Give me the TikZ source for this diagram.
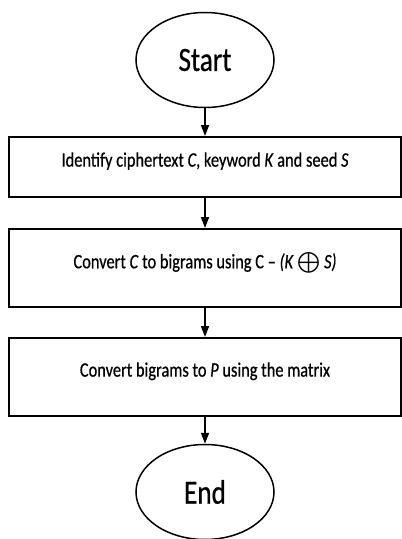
\documentclass[tikz,border=0pt]{standalone}
\usepackage{fontspec}
\setmainfont{Carlito}[FakeStretch=0.8, FakeBold=0.6]
\usepackage{amsmath}
\usepackage{tikz}
\usetikzlibrary{shapes.geometric, arrows.meta, positioning}
\tikzset{
  terminal/.style={ellipse, draw=black, line width=1.5pt,
    minimum width=138pt, minimum height=95pt, inner sep=0pt,
    font=\fontsize{34}{40}\selectfont},
  stepbox/.style={rectangle, draw=black, line width=2pt,
    minimum width=392pt, inner sep=0pt, text depth=15pt,
    font=\fontsize{20.5}{24}\selectfont},
  arrow/.style={-{Triangle[width=8pt, length=11pt]}, line width=1.6pt, color=black}
}

\begin{document}
\begin{tikzpicture}[x=1pt, y=-1pt]
  \useasboundingbox (0,0) rectangle (402,539);
  \node[terminal] (start) at (205,60) {Start};
  \node[stepbox, minimum height=60pt] (ident) at (205,167)
    {Identify ciphertext \textit{C}, keyword \textit{K} and seed \textit{S}};
  \node[stepbox, minimum height=78pt] (conv) at (205,268)
    {Convert \textit{C} to bigrams using C -- \textit{(K} $\bigoplus$ \textit{S)}};
  \node[stepbox, minimum height=78pt] (matrix) at (205,377)
    {Convert bigrams to \textit{P} using the matrix};
  \node[terminal] (end) at (205,492) {End};

  \draw[arrow] (start) -- (ident);
  \draw[arrow] (ident) -- (conv);
  \draw[arrow] (conv) -- (matrix);
  \draw[arrow] (matrix) -- (end);
\end{tikzpicture}
\end{document}
